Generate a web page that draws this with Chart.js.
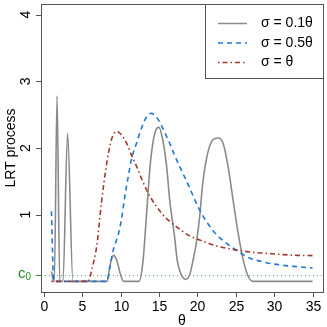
<!DOCTYPE html>
<html>
<head>
<meta charset="utf-8">
<script src="https://cdn.jsdelivr.net/npm/chart.js@4"></script>
<style>
  html, body { margin: 0; padding: 0; background: #fff; }
</style>
</head>
<body>
<canvas id="grafico" width="327" height="327"></canvas>
<script>
// ---- dados ----
const xTicks = [0, 5, 10, 15, 20, 25, 30, 35];
const yTicks = [1, 2, 3, 4];
const c0 = 0.1;
const legendLabels = ['σ = 0.1θ', 'σ = 0.5θ', 'σ = θ'];

// σ = 0.1θ
const thetaA = [1, 1.3, 1.38, 1.73, 2.08, 2.5, 3.1, 3.8, 8.25, 8.6, 8.9, 9.1, 9.35, 9.6, 10.0, 10.4,
  12.4, 12.9, 13.4, 13.8, 14.2, 14.6, 15.0, 15.5, 16.0, 16.4, 17.0, 17.4, 17.9, 18.45, 19.0, 19.5, 19.9,
  20.3, 20.7, 21.3, 22.0, 22.7, 23.35, 24.0, 24.65, 25.3, 25.95, 26.6, 27.25, 35];
const lrtA = [0.15, 0, 0, 2.78, 0, 0, 2.22, 0, 0, 0.22, 0.36, 0.39, 0.36, 0.28, 0.1, 0,
  0, 0.28, 1.03, 1.67, 2.07, 2.27, 2.31, 2.12, 1.72, 1.22, 0.7, 0.3, 0.1, 0.03, 0.1, 0.35, 0.6,
  0.97, 1.47, 1.9, 2.12, 2.15, 2.07, 1.72, 1.22, 0.73, 0.33, 0.08, 0, 0];

// σ = 0.5θ
const thetaB = [1, 1.3, 8.2, 8.6, 9.0, 9.7, 10.1, 10.55, 11.0, 11.4, 12.1, 12.7, 13.4, 14.0, 14.6, 15.1,
  15.8, 16.4, 17.0, 17.7, 18.4, 19.0, 19.6, 20.3, 21.4, 22.5, 23.6, 24.65, 25.7, 26.8, 29, 31.2, 33, 35];
const lrtB = [1.05, 0, 0, 0.2, 0.45, 0.7, 0.92, 1.27, 1.57, 1.82, 2.08, 2.29, 2.47, 2.52, 2.47, 2.39,
  2.22, 2.07, 1.9, 1.72, 1.55, 1.4, 1.24, 1.07, 0.86, 0.7, 0.59, 0.5, 0.42, 0.35, 0.28, 0.24, 0.22, 0.2];

// σ = θ
const thetaC = [1, 5.8, 6.3, 6.9, 7.5, 8.2, 8.8, 9.5, 10.1, 10.8, 11.4, 12.1, 12.7, 13.4, 14.0, 14.7,
  15.5, 16.4, 17.5, 18.7, 20.3, 22.5, 24.6, 26.8, 29, 31.2, 33, 35];
const lrtC = [0, 0, 0.2, 0.53, 1.17, 1.77, 2.12, 2.25, 2.2, 2.07, 1.9, 1.72, 1.55, 1.37, 1.24, 1.12,
  1.0, 0.9, 0.8, 0.7, 0.62, 0.53, 0.48, 0.44, 0.42, 0.4, 0.39, 0.385];

const cores = ['#8a8a8a', '#1f78d8', '#a0392c'];
const tracos = [[], [5, 4], [1.5, 3, 5, 3]];
const fonte = "'Liberation Sans', Arial, sans-serif";

function pontos(xs, ys) {
  return xs.map((t, i) => ({ x: t, y: ys[i] }));
}

// ---- plugin estilo R: caixa, eixos, legenda ----
const estiloR = {
  id: 'estiloR',
  beforeDatasetsDraw(chart) {
    const { ctx, chartArea: a, scales } = chart;
    const yc = Math.round(scales.y.getPixelForValue(c0)) + 0.5;
    ctx.save();
    ctx.strokeStyle = '#6fa96f';
    ctx.lineWidth = 1;
    ctx.setLineDash([1, 3]);
    ctx.beginPath();
    ctx.moveTo(a.left, yc);
    ctx.lineTo(a.right, yc);
    ctx.stroke();
    ctx.restore();
  },
  afterDraw(chart) {
    const { ctx, chartArea: a, scales } = chart;
    const x = scales.x, y = scales.y;
    ctx.save();
    // caixa
    ctx.strokeStyle = '#555';
    ctx.lineWidth = 1;
    ctx.strokeRect(Math.round(a.left) + 0.5, Math.round(a.top) + 0.5,
      Math.round(a.right - a.left), Math.round(a.bottom - a.top));

    // eixo x
    ctx.fillStyle = '#000';
    ctx.font = '14px ' + fonte;
    ctx.textAlign = 'center';
    ctx.textBaseline = 'middle';
    xTicks.forEach(v => {
      const px = Math.round(x.getPixelForValue(v)) + 0.5;
      ctx.beginPath();
      ctx.moveTo(px, a.bottom);
      ctx.lineTo(px, a.bottom + 5);
      ctx.stroke();
      ctx.fillText(String(v), px, a.bottom + 15);
    });
    ctx.fillText('θ', (a.left + a.right) / 2, a.bottom + 29);

    // eixo y
    yTicks.concat([c0]).forEach(v => {
      const py = Math.round(y.getPixelForValue(v)) + 0.5;
      ctx.strokeStyle = v === c0 ? '#2e8b2e' : '#555';
      ctx.beginPath();
      ctx.moveTo(a.left, py);
      ctx.lineTo(a.left - 5, py);
      ctx.stroke();
    });
    yTicks.forEach(v => {
      const py = y.getPixelForValue(v);
      ctx.save();
      ctx.translate(a.left - 15, py);
      ctx.rotate(-Math.PI / 2);
      ctx.fillText(String(v), 0, 0);
      ctx.restore();
    });
    // rótulo c0
    const pc = y.getPixelForValue(c0);
    ctx.fillStyle = '#228b22';
    ctx.textAlign = 'left';
    ctx.font = '15px ' + fonte;
    ctx.fillText('c', 18, pc - 1);
    ctx.font = '10px ' + fonte;
    ctx.fillText('0', 25.5, pc + 3);

    ctx.fillStyle = '#000';
    ctx.font = '14px ' + fonte;
    ctx.textAlign = 'center';
    ctx.save();
    ctx.translate(11, (a.top + a.bottom) / 2);
    ctx.rotate(-Math.PI / 2);
    ctx.fillText('LRT process', 0, 0);
    ctx.restore();

    // legenda
    const lx = 205.5, ly = Math.round(a.top) + 0.5, lw = Math.round(a.right) - 205, lh = 74;
    ctx.fillStyle = '#fff';
    ctx.fillRect(lx, ly, lw, lh);
    ctx.strokeStyle = '#555';
    ctx.strokeRect(lx, ly, lw, lh);
    legendLabels.forEach((txt, i) => {
      const ry = ly + 19 + i * 19.5;
      ctx.strokeStyle = cores[i];
      ctx.lineWidth = 1.5;
      ctx.setLineDash(tracos[i]);
      ctx.beginPath();
      ctx.moveTo(218, ry);
      ctx.lineTo(247, ry);
      ctx.stroke();
      ctx.setLineDash([]);
      ctx.fillStyle = '#000';
      ctx.textAlign = 'left';
      ctx.fillText(txt, 261, ry);
    });
    ctx.restore();
  }
};

const series = [pontos(thetaA, lrtA), pontos(thetaB, lrtB), pontos(thetaC, lrtC)];

new Chart(document.getElementById('grafico'), {
  type: 'line',
  data: {
    datasets: series.map((d, i) => ({
      label: legendLabels[i],
      data: d,
      borderColor: cores[i],
      borderWidth: 1.6,
      borderDash: tracos[i],
      pointRadius: 0,
      fill: false,
      cubicInterpolationMode: 'monotone',
      order: 3 - i
    }))
  },
  options: {
    responsive: false,
    animation: false,
    devicePixelRatio: 1,
    layout: { padding: { top: 4, right: 4, left: 0, bottom: 0 } },
    plugins: { legend: { display: false }, tooltip: { enabled: false } },
    scales: {
      x: {
        type: 'linear', min: -0.36, max: 36.36,
        grid: { display: false }, border: { display: false },
        ticks: { display: false },
        afterFit(s) { s.height = 35; }
      },
      y: {
        min: -0.16, max: 4.16,
        grid: { display: false }, border: { display: false },
        ticks: { display: false },
        afterFit(s) { s.width = 41; }
      }
    }
  },
  plugins: [estiloR]
});
</script>
</body>
</html>
